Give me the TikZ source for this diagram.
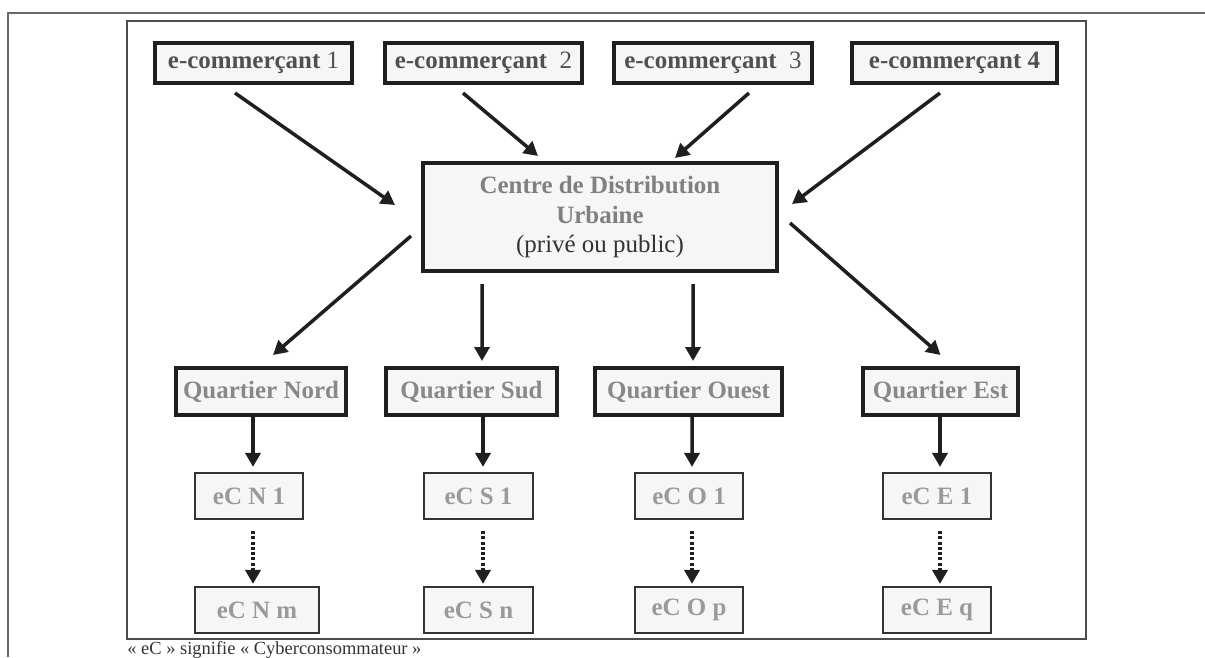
\documentclass[tikz,border=0pt]{standalone}
\usepackage{fontspec}
\setmainfont{Liberation Serif}
\usepackage{xcolor}
\usetikzlibrary{arrows.meta}

\newdimen\px
\px=0.02cm
\definecolor{boxfill}{HTML}{F6F6F6}
\definecolor{framegray}{HTML}{6A6A6A}
\definecolor{vendortext}{HTML}{505050}
\definecolor{quartiertext}{HTML}{888888}
\definecolor{eCtext}{HTML}{9A9A9A}

\begin{document}
\begin{tikzpicture}[x=0.02cm, y=-0.02cm,
                        bigfont/.style={font=\fontsize{14.2}{17}\selectfont\bfseries},
                        thickbox/.style={draw=black!88, line width=4\px, fill=boxfill, inner sep=0pt, bigfont},
                        vendor/.style={thickbox, text=vendortext, minimum height=40\px},
                        quartier/.style={thickbox, text=quartiertext, minimum height=47\px},
                        client/.style={draw=black!80, line width=2.2\px, fill=boxfill, inner sep=0pt, bigfont,
                                       text=eCtext, minimum height=46\px},
                        arr/.style={draw=black!88, line width=0.07cm, -{Triangle[length=0.28cm, width=0.3cm]}},
                        dotarr/.style={arr, dash pattern=on 0.06cm off 0.045cm}]
        \useasboundingbox (0,0) rectangle (1205,657);
        \draw[framegray, line width=1.5\px] (8,657) -- (8,13) -- (1205,13);
        \draw[black!70, line width=1.5\px] (127,21) rectangle (1086,639);

        \node[vendor, minimum width=197\px] (e1) at (253.5,63) {e-commerçant \textmd{1}};
        \node[vendor, minimum width=197\px] (e2) at (483.5,63) {e-commerçant\ \ \textmd{2}};
        \node[vendor, minimum width=198\px] (e3) at (713,63) {e-commerçant\ \ \textmd{3}};
        \node[vendor, minimum width=205\px] (e4) at (954.5,63) {e-commerçant 4};

        \node[thickbox, text=black!50, align=center, minimum width=354\px, minimum height=108\px] (cdu) at (600,217)
            {Centre de Distribution\\ Urbaine\\ {\mdseries\color{black!80}(privé ou public)}};

        \node[quartier, minimum width=170\px] (nord) at (261,391.5) {Quartier Nord};
        \node[quartier, minimum width=171\px] (sud) at (471.5,391.5) {Quartier Sud};
        \node[quartier, minimum width=187\px] (ouest) at (688.5,391.5) {Quartier Ouest};
        \node[quartier, minimum width=155\px] (est) at (940.5,391.5) {Quartier Est};

        \node[client, minimum width=108\px] (eCN1) at (249,496) {eC N 1};
        \node[client, minimum width=109\px] (eCS1) at (478.5,496) {eC S 1};
        \node[client, minimum width=108\px] (eCO1) at (689,496) {eC O 1};
        \node[client, minimum width=108\px] (eCE1) at (937,496) {eC E 1};
        \node[client, minimum width=124\px] (eCNm) at (257,610) {eC N m};
        \node[client, minimum width=109\px] (eCSn) at (478.5,610) {eC S n};
        \node[client, minimum width=108\px] (eCOp) at (689,610) {eC O p};
        \node[client, minimum width=108\px] (eCEq) at (937,610) {eC E q};

        \node[anchor=north west, inner sep=0pt, text=black!80, font=\fontsize{10.5}{12}\selectfont] (note) at (127,641)
            {« eC » signifie « Cyberconsommateur »};

        \draw[arr] ([shift={(-18.5,8)}]e1.south) -- ([shift={(-26,-12)}]cdu.west);
        \draw[arr] ([shift={(-20.5,8)}]e2.south) -- ([shift={(-62,-5)}]cdu.north);
        \draw[arr] ([shift={(36,8)}]e3.south) -- ([shift={(75,-3)}]cdu.north);
        \draw[arr] ([shift={(-14.5,8)}]e4.south) -- ([shift={(13,-13)}]cdu.east);

        \draw[arr] ([shift={(-10,19)}]cdu.west) -- ([shift={(12,-11)}]nord.north);
        \draw[arr] ([shift={(-118,11)}]cdu.south) -- ([shift={(10.5,-5)}]sud.north);
        \draw[arr] ([shift={(93,11)}]cdu.south) -- ([shift={(4.5,-5)}]ouest.north);
        \draw[arr] ([shift={(11,6)}]cdu.east) -- ([shift={(0,-11)}]est.north);

        \draw[arr] ([shift={(-8,0)}]nord.south) -- ([shift={(4,-5)}]eCN1.north);
        \draw[arr] ([shift={(11.5,0)}]sud.south) -- ([shift={(4.5,-5)}]eCS1.north);
        \draw[arr] ([shift={(3.5,0)}]ouest.south) -- ([shift={(3,-5)}]eCO1.north);
        \draw[arr] ([shift={(-0.5,0)}]est.south) -- ([shift={(3,-5)}]eCE1.north);

        \draw[dotarr] ([shift={(4,11)}]eCN1.south) -- ([shift={(-4,-2)}]eCNm.north);
        \draw[dotarr] ([shift={(4.5,11)}]eCS1.south) -- ([shift={(4.5,-2)}]eCSn.north);
        \draw[dotarr] ([shift={(3,11)}]eCO1.south) -- ([shift={(3,-2)}]eCOp.north);
        \draw[dotarr] ([shift={(3,11)}]eCE1.south) -- ([shift={(3,-2)}]eCEq.north);
    \end{tikzpicture}
\end{document}
